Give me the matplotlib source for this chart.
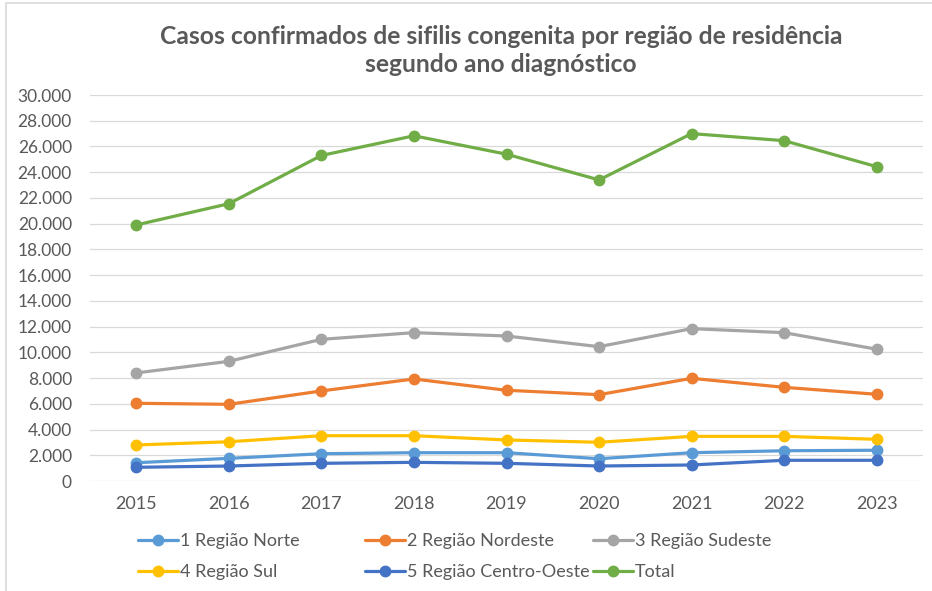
import matplotlib
matplotlib.use("Agg")
import matplotlib.pyplot as plt
from matplotlib.ticker import FuncFormatter, MultipleLocator
from matplotlib.patches import Rectangle

plt.rcParams['font.family'] = ['Lato', 'DejaVu Sans']

# data
anos = ['2015', '2016', '2017', '2018', '2019', '2020', '2021', '2022', '2023']
norte = [1420, 1760, 2120, 2200, 2200, 1730, 2200, 2350, 2390]
nordeste = [6040, 5960, 7000, 7930, 7050, 6710, 7980, 7280, 6740]
sudeste = [8400, 9300, 11010, 11530, 11270, 10440, 11840, 11530, 10240]
sul = [2800, 3050, 3520, 3520, 3190, 3010, 3470, 3470, 3240]
centro_oeste = [1065, 1165, 1375, 1450, 1375, 1165, 1245, 1610, 1610]
total = [19900, 21550, 25300, 26830, 25400, 23400, 27000, 26450, 24430]

nomes = ['1 Região Norte', '2 Região Nordeste', '3 Região Sudeste',
         '4 Região Sul', '5 Região Centro-Oeste', 'Total']
series = [norte, nordeste, sudeste, sul, centro_oeste, total]
cores = ['#5B9BD5', '#ED7D31', '#A5A5A5', '#FFC000', '#4472C4', '#70AD47']

texto = '#595959'

fig = plt.figure(figsize=(9.32, 5.91), dpi=100)
ax = fig.add_axes([90 / 932, 1 - 481 / 591, 833 / 932, 386 / 591])

# light chart border like the Excel frame
fig.patches.append(Rectangle((6 / 932, -0.1), 1.2, (591 - 3) / 591 + 0.1,
                             transform=fig.transFigure, fill=False,
                             edgecolor='#D9D9D9', linewidth=1.2))

x = list(range(len(anos)))
linhas = []
for nome, vals, cor in zip(nomes, series, cores):
    ln, = ax.plot(x, vals, color=cor, linewidth=2.3, marker='o',
                  markersize=7.5, label=nome, solid_capstyle='round')
    linhas.append(ln)

ax.set_xlim(-0.5, len(anos) - 0.5)
ax.set_ylim(0, 30000)
ax.yaxis.set_major_locator(MultipleLocator(2000))
ax.yaxis.set_major_formatter(FuncFormatter(lambda v, p: f"{int(v):,}".replace(',', '.')))
ax.set_xticks(x)
ax.set_xticklabels(anos)
ax.grid(axis='y', color='#D9D9D9', linewidth=0.9)
ax.set_axisbelow(True)
for s in ax.spines.values():
    s.set_visible(False)
ax.tick_params(axis='both', length=0, labelcolor=texto)
ax.tick_params(axis='y', pad=13, labelsize=12.5)
ax.tick_params(axis='x', pad=11, labelsize=13)

fig.text(501 / 932, 1 - 37 / 591, 'Casos confirmados de sifilis congenita por região de residência',
         ha='center', va='center', fontsize=17.7, fontweight='bold', color=texto)
fig.text(501 / 932, 1 - 64 / 591, 'segundo ano diagnóstico',
         ha='center', va='center', fontsize=17.7, fontweight='bold', color=texto)

# legend in three columns like the reference
colunas = [(0, 3), (1, 4), (2, 5)]
xs = [138, 365, 593]
for (a, b), xc in zip(colunas, xs):
    leg = fig.legend([linhas[a], linhas[b]], [nomes[a], nomes[b]],
                     loc='upper left', bbox_to_anchor=(xc / 932, 1 - 533 / 591),
                     frameon=False, fontsize=13, handlelength=2.2,
                     handletextpad=0.12, labelspacing=0.83, borderaxespad=0,
                     borderpad=0)
    for t in leg.get_texts():
        t.set_color(texto)

fig.savefig('out.png', dpi=100)
